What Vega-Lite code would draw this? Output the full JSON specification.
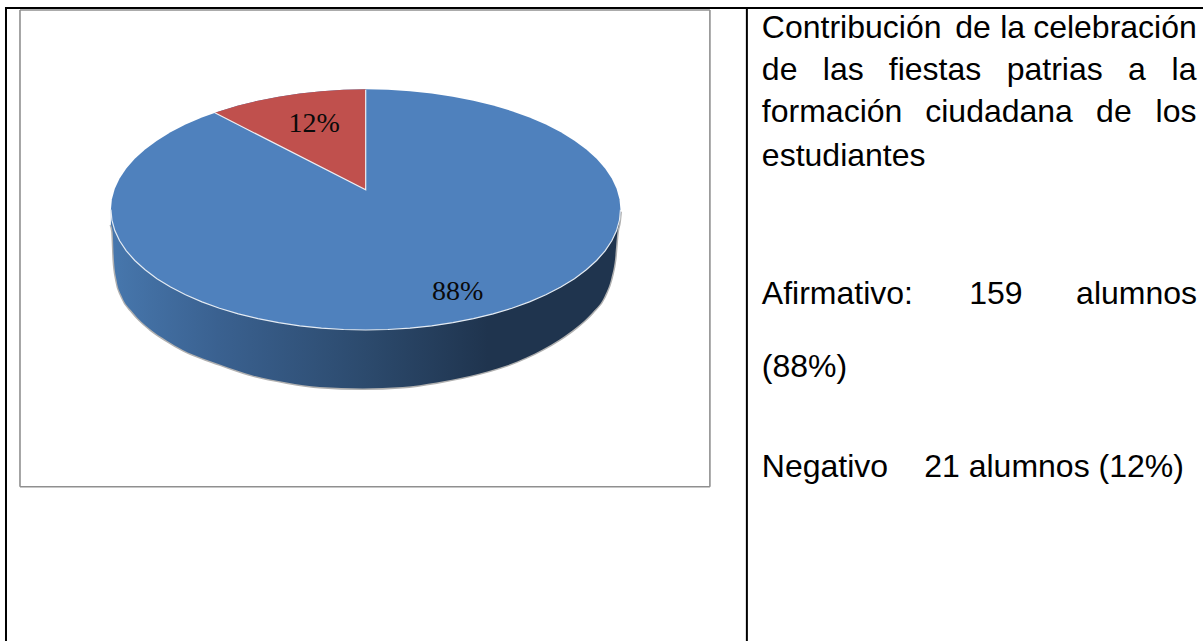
{"$schema":"https://vega.github.io/schema/vega-lite/v6.json","width":1204,"height":642,"autosize":{"type":"fit","contains":"padding"},"padding":0,"background":"white","config":{"view":{"stroke":null}},
"datasets":{
"face":[{"x":111,"top":210,"bottom":210},{"x":112,"top":199.5,"bottom":220.5},{"x":114.9,"top":189.1,"bottom":230.9},{"x":119.7,"top":178.8,"bottom":241.2},{"x":126.4,"top":168.8,"bottom":251.2},{"x":134.9,"top":159.1,"bottom":260.9},{"x":145.2,"top":149.8,"bottom":270.2},{"x":157.1,"top":140.9,"bottom":279.1},{"x":170.7,"top":132.5,"bottom":287.5},{"x":185.7,"top":124.8,"bottom":295.2},{"x":202.1,"top":117.7,"bottom":302.3},{"x":219.7,"top":111.3,"bottom":308.7},{"x":238.5,"top":105.6,"bottom":314.4},{"x":258.2,"top":100.8,"bottom":319.2},{"x":278.8,"top":96.8,"bottom":323.2},{"x":300,"top":93.6,"bottom":326.4},{"x":321.7,"top":91.3,"bottom":328.7},{"x":343.8,"top":90,"bottom":330},{"x":366,"top":89.5,"bottom":330.5},{"x":388.2,"top":90,"bottom":330},{"x":410.3,"top":91.3,"bottom":328.7},{"x":432,"top":93.6,"bottom":326.4},{"x":453.2,"top":96.8,"bottom":323.2},{"x":473.8,"top":100.8,"bottom":319.2},{"x":493.5,"top":105.6,"bottom":314.4},{"x":512.3,"top":111.3,"bottom":308.7},{"x":529.9,"top":117.7,"bottom":302.3},{"x":546.3,"top":124.8,"bottom":295.2},{"x":561.3,"top":132.5,"bottom":287.5},{"x":574.9,"top":140.9,"bottom":279.1},{"x":586.8,"top":149.8,"bottom":270.2},{"x":597.1,"top":159.1,"bottom":260.9},{"x":605.6,"top":168.8,"bottom":251.2},{"x":612.3,"top":178.8,"bottom":241.2},{"x":617.1,"top":189.1,"bottom":230.9},{"x":620,"top":199.5,"bottom":220.5},{"x":621,"top":210,"bottom":210}],
"side":[{"x":111,"top":210,"low":225},{"x":112.7,"top":210,"low":232},{"x":114,"top":210,"low":260},{"x":116.7,"top":210,"low":281},{"x":121.7,"top":210,"low":296.5},{"x":133,"top":210,"low":313},{"x":150,"top":210,"low":329.5},{"x":166.7,"top":210,"low":341},{"x":183,"top":210,"low":350.5},{"x":203,"top":210,"low":359},{"x":220,"top":210,"low":365},{"x":253,"top":210,"low":376},{"x":287,"top":210,"low":383},{"x":320,"top":210,"low":387.5},{"x":363,"top":210,"low":389},{"x":403,"top":210,"low":387.5},{"x":437,"top":210,"low":383},{"x":470,"top":210,"low":376.5},{"x":507,"top":210,"low":366},{"x":526.7,"top":210,"low":358},{"x":543,"top":210,"low":350},{"x":560,"top":210,"low":340},{"x":576.7,"top":210,"low":328},{"x":593,"top":210,"low":313},{"x":605,"top":210,"low":297},{"x":612,"top":210,"low":278},{"x":615.5,"top":210,"low":260},{"x":618,"top":210,"low":232},{"x":620,"top":210,"low":222},{"x":621,"top":210,"low":212}],
"wedge":[{"x":215,"top":112.9,"bottom":112.9},{"x":219.7,"top":111.3,"bottom":115.4},{"x":238.5,"top":105.6,"bottom":125},{"x":258.2,"top":100.8,"bottom":135},{"x":278.8,"top":96.8,"bottom":145.6},{"x":300,"top":93.6,"bottom":156.4},{"x":321.7,"top":91.3,"bottom":167.5},{"x":343.8,"top":90,"bottom":178.7},{"x":366,"top":89.5,"bottom":190}],
"wedgeEdge":[{"x":215,"y":113,"i":1},{"x":366,"y":190,"i":2},{"x":366,"y":90,"i":3}],
"table":[{"x":6,"x2":6,"y":7,"y2":642},{"x":5,"x2":1204,"y":8,"y2":8},{"x":747.5,"x2":747.5,"y":8,"y2":642}],
"frame":[{"x":20,"x2":20,"y":10,"y2":487.5},{"x":20,"x2":710.5,"y":10,"y2":10},{"x":710.5,"x2":710.5,"y":10,"y2":487.5},{"x":20,"x2":710.5,"y":487.5,"y2":487.5}],
"labels":[{"x":314.5,"y":132,"text":"12%"},{"x":458,"y":300,"text":"88%"}],
"words":[{"x":762.5,"y":38.5,"text":"Contribución"},{"x":956,"y":38.5,"text":"de"},{"x":1001,"y":38.5,"text":"la"},{"x":1034,"y":38.5,"text":"celebración"},{"x":762.5,"y":80.5,"text":"de"},{"x":823.5,"y":80.5,"text":"las"},{"x":889.5,"y":80.5,"text":"fiestas"},{"x":1007.5,"y":80.5,"text":"patrias"},{"x":1129,"y":80.5,"text":"a"},{"x":1172.5,"y":80.5,"text":"la"},{"x":762.5,"y":122.5,"text":"formación"},{"x":926,"y":122.5,"text":"ciudadana"},{"x":1097,"y":122.5,"text":"de"},{"x":1156.5,"y":122.5,"text":"los"},{"x":762.5,"y":166,"text":"estudiantes"},{"x":762.5,"y":304,"text":"Afirmativo:"},{"x":970,"y":304,"text":"159"},{"x":1077,"y":304,"text":"alumnos"},{"x":762.5,"y":378,"text":"(88%)"},{"x":762.5,"y":478,"text":"Negativo"},{"x":925,"y":478,"text":"21 alumnos (12%)"}]
},
"layer":[
{"data":{"name":"side"},"mark":{"type":"line","interpolate":"monotone","stroke":"#b0b0b0","strokeWidth":3},"encoding":{"x":{"field":"x","type":"quantitative","scale":{"domain":[0,1204],"nice":false,"zero":false},"axis":null},"y":{"field":"low","type":"quantitative","scale":{"domain":[642,0],"nice":false,"zero":false},"axis":null}}},
{"data":{"name":"side"},"mark":{"type":"area","orient":"vertical","interpolate":"monotone","color":{"gradient":"linear","x1":0,"x2":1,"y1":0,"y2":0,"stops":[{"offset":0,"color":"#4777ad"},{"offset":0.21,"color":"#3a6190"},{"offset":0.5,"color":"#2c4a6d"},{"offset":0.74,"color":"#1f344e"},{"offset":1,"color":"#1f344e"}]}},"encoding":{"x":{"field":"x","type":"quantitative"},"y":{"field":"top","type":"quantitative"},"y2":{"field":"low"}}},
{"data":{"name":"face"},"mark":{"type":"area","orient":"vertical","color":"#4f81bd"},"encoding":{"x":{"field":"x","type":"quantitative"},"y":{"field":"top","type":"quantitative"},"y2":{"field":"bottom"}}},
{"data":{"name":"face"},"mark":{"type":"line","stroke":"#e4ebf3","strokeWidth":1.2},"encoding":{"x":{"field":"x","type":"quantitative"},"y":{"field":"bottom","type":"quantitative"}}},
{"data":{"name":"wedge"},"mark":{"type":"area","orient":"vertical","color":"#c0504d"},"encoding":{"x":{"field":"x","type":"quantitative"},"y":{"field":"top","type":"quantitative"},"y2":{"field":"bottom"}}},
{"data":{"name":"wedgeEdge"},"mark":{"type":"line","stroke":"#eef0f4","strokeWidth":1.2},"encoding":{"x":{"field":"x","type":"quantitative"},"y":{"field":"y","type":"quantitative"},"order":{"field":"i","type":"ordinal"}}},
{"data":{"name":"frame"},"mark":{"type":"rule","stroke":"#8f8f8f","strokeWidth":1.6},"encoding":{"x":{"field":"x","type":"quantitative"},"x2":{"field":"x2"},"y":{"field":"y","type":"quantitative"},"y2":{"field":"y2"}}},
{"data":{"name":"table"},"mark":{"type":"rule","stroke":"#000000","strokeWidth":2},"encoding":{"x":{"field":"x","type":"quantitative"},"x2":{"field":"x2"},"y":{"field":"y","type":"quantitative"},"y2":{"field":"y2"}}},
{"data":{"name":"labels"},"mark":{"type":"text","font":"Liberation Serif","fontSize":28,"color":"#0a0a0a","align":"center","baseline":"alphabetic"},"encoding":{"x":{"field":"x","type":"quantitative"},"y":{"field":"y","type":"quantitative"},"text":{"field":"text"}}},
{"data":{"name":"words"},"mark":{"type":"text","font":"Liberation Sans","fontSize":32,"color":"#000000","align":"left","baseline":"alphabetic"},"encoding":{"x":{"field":"x","type":"quantitative"},"y":{"field":"y","type":"quantitative"},"text":{"field":"text"}}}
]}
